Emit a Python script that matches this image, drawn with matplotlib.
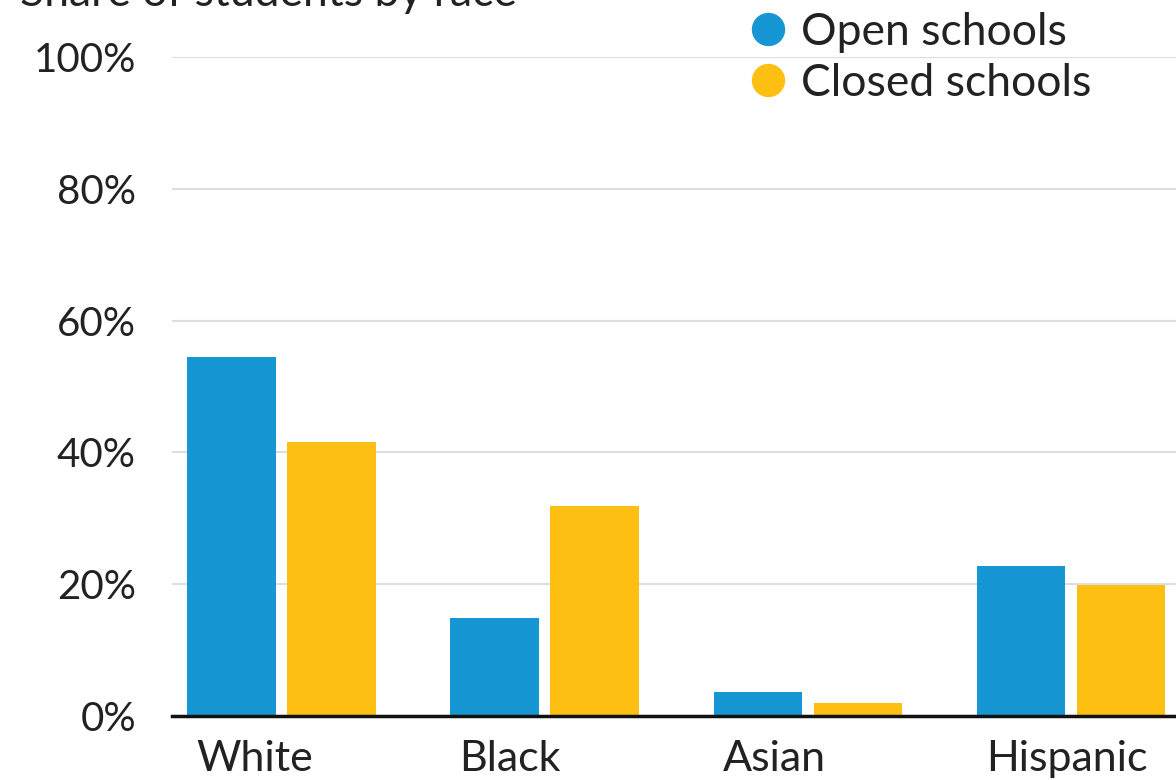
import matplotlib.pyplot as plt
from matplotlib.lines import Line2D
import numpy as np

# Data
races = ["White", "Black", "Asian", "Hispanic"]
open_schools = [54.5, 14.8, 3.6, 22.8]
closed_schools = [41.6, 31.9, 2.0, 19.9]
yticks = [0, 20, 40, 60, 80, 100]

blue = "#1696d2"
yellow = "#fdbf11"

plt.rcParams["font.family"] = ["Lato", "DejaVu Sans"]

fig = plt.figure(figsize=(11.76, 7.8), dpi=100)
ax = fig.add_axes([172 / 1176, 64 / 780, 1 - 172 / 1176, 659 / 780])

x = np.arange(len(races))
w = 0.335
gap = 0.045
ax.bar(x - (w + gap) / 2, open_schools, w, color=blue, zorder=3)
ax.bar(x + (w + gap) / 2, closed_schools, w, color=yellow, zorder=3)

ax.set_xlim(-0.416, 3.40)
ax.set_ylim(0, 100)

# y axis
ax.set_yticks(yticks)
ax.set_yticklabels([f"{t}%" for t in yticks])
ax.yaxis.grid(True, color="#dedede", linewidth=1.5, zorder=0)
ax.tick_params(axis="y", length=0, pad=26, labelsize=29, labelcolor="#222222")

# x axis: labels sit left-aligned under the open bar
ax.set_xticks(x - w - gap / 2 + 9 / 263)
ax.set_xticklabels(races, ha="left")
ax.tick_params(axis="x", length=0, pad=17, labelsize=31, labelcolor="#222222")

for s in ["top", "right", "left"]:
    ax.spines[s].set_visible(False)
ax.spines["bottom"].set_linewidth(2.5)
ax.spines["bottom"].set_color("#111111")
ax.spines["bottom"].set_zorder(4)

# title, cut off at the top of the crop like the reference
fig.text(20 / 1176, 1 - 6 / 780, "Share of students by race", fontsize=32,
         color="#222222", va="baseline", ha="left")

handles = [
    Line2D([], [], marker="o", linestyle="", markersize=23, color=blue),
    Line2D([], [], marker="o", linestyle="", markersize=23, color=yellow),
]
fig.legend(handles, ["Open schools", "Closed schools"], loc="upper left",
           bbox_to_anchor=(737 / 1176, 1 + 6 / 780), frameon=False,
           fontsize=32, handlelength=0.6, handletextpad=0.45, labelspacing=0.22,
           labelcolor="#222222", borderaxespad=0)

fig.savefig("out.png", dpi=100)
